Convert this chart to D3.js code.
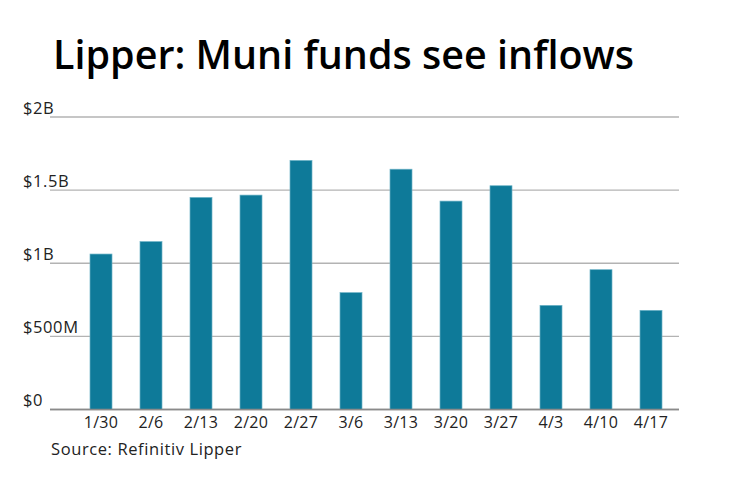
<!DOCTYPE html>
<html>
<head>
<meta charset="utf-8">
<script src="https://cdn.jsdelivr.net/npm/d3@7"></script>
<style>
  html, body { margin: 0; padding: 0; background: #fff; }
  svg { display: block; }
  text { font-family: "Open Sans", Lato, sans-serif; }
</style>
</head>
<body>
<svg id="chart" width="740" height="482"></svg>
<script>
const categories = ["1/30", "2/6", "2/13", "2/20", "2/27", "3/6", "3/13", "3/20", "3/27", "4/3", "4/10", "4/17"];
const inflows = [1.063, 1.148, 1.450, 1.466, 1.703, 0.799, 1.643, 1.425, 1.530, 0.712, 0.956, 0.678]; // $ billions
const yTicks = [0, 0.5, 1, 1.5, 2];
const yTickLabels = ["$0", "$500M", "$1B", "$1.5B", "$2B"];
const titleText = "Lipper: Muni funds see inflows";
const sourceText = "Source: Refinitiv Lipper";

const svg = d3.select("#chart");
const W = 740, H = 482;
svg.append("rect").attr("width", W).attr("height", H).attr("fill", "#fff");

const y = d3.scaleLinear().domain([0, 2]).range([409.5, 117]);
const x = d3.scaleBand().domain(categories).range([76, 676]).paddingInner(0.56).paddingOuter(0.28);

// Title
const title = svg.append("text")
  .attr("x", 53).attr("y", 69)
  .attr("font-size", 40).attr("font-weight", 600).attr("fill", "#000")
  .text(titleText);
const tw = title.node().getComputedTextLength();
if (tw > 0) title.attr("textLength", 581).attr("lengthAdjust", "spacingAndGlyphs");

// Gridlines
const grid = svg.append("g");
grid.selectAll("line").data(yTicks).join("line")
  .attr("x1", 50).attr("x2", 679)
  .attr("y1", d => y(d)).attr("y2", d => y(d))
  .attr("stroke", d => d === 0 ? "#8a8a8a" : "#b3b3b3")
  .attr("stroke-width", 1.4);

// Y labels
svg.append("g").selectAll("text").data(yTicks).join("text")
  .attr("x", 23).attr("y", d => y(d) - 3.5)
  .attr("font-size", 16.5).attr("letter-spacing", 0.6).attr("fill", "#222")
  .text((d, i) => yTickLabels[i]);

// Bars
svg.append("g").selectAll("rect").data(inflows).join("rect")
  .attr("x", (d, i) => x(categories[i]))
  .attr("width", x.bandwidth())
  .attr("y", d => y(d))
  .attr("height", d => y(0) - y(d))
  .attr("fill", "#0e7a99")
  .attr("stroke", "#6db3c7")
  .attr("stroke-width", 0.7);

// redraw baseline over bars
svg.append("line").attr("x1", 50).attr("x2", 679).attr("y1", y(0)).attr("y2", y(0))
  .attr("stroke", "#8a8a8a").attr("stroke-width", 1.4);

// X labels
svg.append("g").selectAll("text").data(categories).join("text")
  .attr("x", d => x(d) + x.bandwidth() / 2)
  .attr("y", 427.5)
  .attr("text-anchor", "middle")
  .attr("font-size", 16).attr("letter-spacing", 0.3).attr("fill", "#222")
  .text(d => d);

// Source
svg.append("text")
  .attr("x", 51).attr("y", 455)
  .attr("font-size", 16.5).attr("letter-spacing", 0.6).attr("fill", "#222")
  .text(sourceText);
</script>
</body>
</html>
